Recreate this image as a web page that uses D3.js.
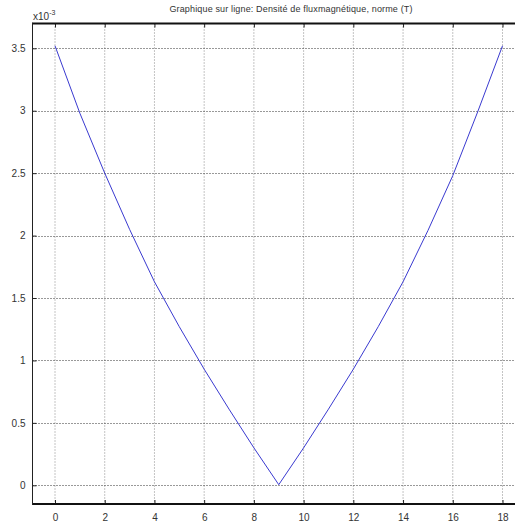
<!DOCTYPE html>
<html>
<head>
<meta charset="utf-8">
<script src="https://cdn.jsdelivr.net/npm/d3@7"></script>
<style>
  body { margin: 0; background: #fff; }
  text { font-family: Arial, "Liberation Sans", sans-serif; }
</style>
</head>
<body>
<svg id="chart" width="515" height="522"></svg>
<script>
// values are in units of 1e-3 T
const positions = [0, 1, 2, 3, 4, 5, 6, 7, 8, 9, 10, 11, 12, 13, 14, 15, 16, 17, 18];
const fluxValues = [3.52, 2.98, 2.50, 2.05, 1.63, 1.27, 0.93, 0.61, 0.30, 0.005,
                    0.30, 0.61, 0.93, 1.27, 1.63, 2.04, 2.48, 2.99, 3.52];
const xTicks = [0, 2, 4, 6, 8, 10, 12, 14, 16, 18];
const yTicks = [0, 0.5, 1, 1.5, 2, 2.5, 3, 3.5];
const title = "Graphique sur ligne: Densité de fluxmagnétique, norme (T)";

const svg = d3.select("#chart");
const frameL = 32.5, frameT = 23.5, frameB = 504, frameR = 560;

const x = d3.scaleLinear().domain([0, 18]).range([55, 502.5]);
const y = d3.scaleLinear().domain([0, 3.5]).range([485.3, 48.3]);

// grid
svg.append("g").selectAll("line")
	.data(xTicks)
	.enter().append("line")
		.attr("x1", d => x(d)).attr("x2", d => x(d))
		.attr("y1", frameT).attr("y2", frameB)
		.attr("stroke", "#888").attr("stroke-width", 1)
		.attr("stroke-dasharray", "1,2");
svg.append("g").selectAll("line")
	.data(yTicks)
	.enter().append("line")
		.attr("x1", frameL).attr("x2", frameR)
		.attr("y1", d => Math.round(y(d)) + 0.5).attr("y2", d => Math.round(y(d)) + 0.5)
		.attr("stroke", "#333").attr("stroke-width", 1)
		.attr("stroke-dasharray", "1,2");

// axes via d3 axis (inner ticks)
const xAxis = svg.append("g")
	.attr("transform", `translate(0,${frameB})`)
	.call(d3.axisBottom(x).tickValues(xTicks).tickSize(-4).tickPadding(10).tickFormat(d3.format("d")));
const yAxis = svg.append("g")
	.attr("transform", `translate(${frameL},0)`)
	.call(d3.axisLeft(y).tickValues(yTicks).tickSize(-4).tickPadding(7).tickFormat(d => String(d)));
[xAxis, yAxis].forEach(a => {
	a.select(".domain").remove();
	a.selectAll(".tick line").attr("stroke", "#222");
	a.selectAll(".tick text").attr("fill", "#333").attr("font-size", 10)
		.attr("font-family", "Arial, 'Liberation Sans', sans-serif");
});
svg.append("g")
	.attr("transform", `translate(0,${frameT})`)
	.call(d3.axisTop(x).tickValues(xTicks).tickSize(-4).tickFormat(""))
	.call(g => g.select(".domain").remove())
	.selectAll(".tick line").attr("stroke", "#222");

// frame
svg.append("line").attr("x1", frameL).attr("x2", frameR).attr("y1", frameT).attr("y2", frameT)
	.attr("stroke", "#111").attr("stroke-width", 2);
svg.append("line").attr("x1", frameL).attr("x2", frameR).attr("y1", frameB).attr("y2", frameB)
	.attr("stroke", "#111").attr("stroke-width", 2);
svg.append("line").attr("x1", frameL).attr("x2", frameL).attr("y1", frameT - 1).attr("y2", frameB + 1)
	.attr("stroke", "#222").attr("stroke-width", 1);

// data line
const line = d3.line().x((d, i) => x(positions[i])).y(d => y(d));
svg.append("path")
	.datum(fluxValues)
	.attr("d", line)
	.attr("fill", "none")
	.attr("stroke", "#3a3ad0")
	.attr("stroke-width", 1);

// title
svg.append("text")
	.attr("x", 291).attr("y", 12)
	.attr("text-anchor", "middle")
	.attr("font-size", 9)
	.attr("letter-spacing", 0.15)
	.attr("fill", "#333")
	.text(title);

// exponent label
const ex = svg.append("text").attr("x", 33).attr("y", 20).attr("font-size", 10).attr("fill", "#333");
ex.append("tspan").text("x10");
ex.append("tspan").attr("dy", -5).attr("font-size", 7).text("-3");
</script>
</body>
</html>
